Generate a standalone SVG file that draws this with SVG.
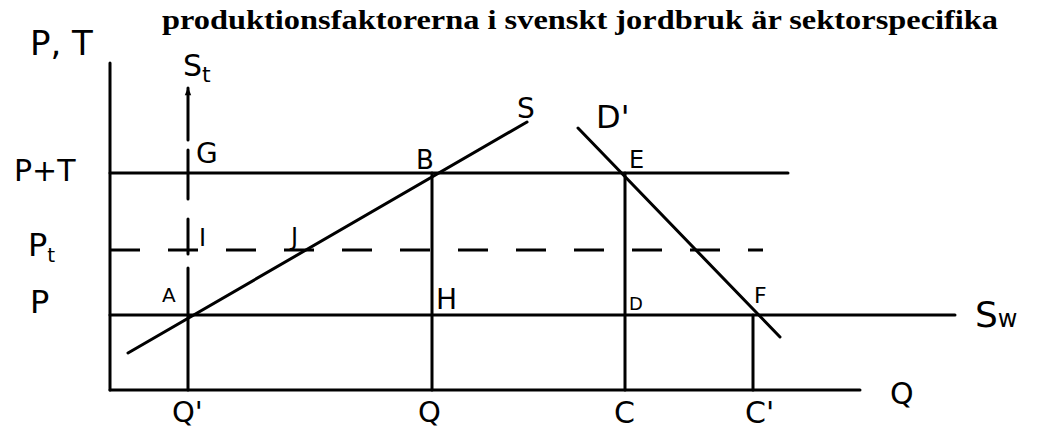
<svg xmlns="http://www.w3.org/2000/svg" width="1041" height="430" viewBox="0 0 1041 430">
<style>
.ln{stroke:#000;stroke-width:3;fill:none;stroke-linecap:round}
.dsh{stroke:#000;stroke-width:3;fill:none;stroke-dasharray:30 28}
.lb{font-family:"DejaVu Sans","Liberation Sans",sans-serif;fill:#000}
.title{font-family:"Liberation Serif","Times New Roman",serif;font-weight:bold;font-size:28px;fill:#000}
</style>
<defs>
<marker id="ah" viewBox="0 0 10 10" refX="9" refY="5" markerWidth="10" markerHeight="8" orient="auto" markerUnits="userSpaceOnUse">
<path d="M0,1 L10,5 L0,9 Z" fill="#000"/>
</marker>
</defs>
<rect width="1041" height="430" fill="#fff"/>
<text class="title" x="162" y="29" textLength="836" lengthAdjust="spacingAndGlyphs">produktionsfaktorerna i svenskt jordbruk är sektorspecifika</text>
<g id="connectors">
<line class="ln" x1="110" y1="63" x2="110" y2="390"/>
<line class="ln" x1="110" y1="390" x2="860" y2="390"/>
<line class="ln" x1="110" y1="173" x2="788" y2="173"/>
<line class="dsh" x1="110" y1="250" x2="763" y2="250"/>
<line class="ln" x1="110" y1="315" x2="955" y2="315"/>
<line class="ln" x1="188" y1="140" x2="188" y2="88" marker-end="url(#ah)"/>
<line class="ln" x1="188" y1="150" x2="188" y2="199"/>
<line class="ln" x1="188" y1="219" x2="188" y2="254"/>
<line class="ln" x1="188" y1="268" x2="188" y2="390"/>
<line class="ln" x1="128" y1="353" x2="527" y2="122"/>
<line class="ln" x1="578" y1="128" x2="780" y2="337"/>
<line class="ln" x1="432" y1="173" x2="432" y2="390"/>
<line class="ln" x1="625" y1="173" x2="625" y2="390"/>
<line class="ln" x1="753" y1="315" x2="753" y2="390"/>
</g>
<g id="axis-y"><text class="lb" x="30" y="55" font-size="34">P, T</text></g>
<g id="St"><text class="lb" x="183" y="76" font-size="30">S<tspan font-size="22" dy="6">t</tspan></text></g>
<g id="PT"><text class="lb" x="14" y="181" font-size="30">P+T</text></g>
<g id="G"><text class="lb" x="196" y="163" font-size="28">G</text></g>
<g id="B"><text class="lb" x="416" y="169" font-size="26">B</text></g>
<g id="E"><text class="lb" x="629" y="168" font-size="24">E</text></g>
<g id="S"><text class="lb" x="517" y="118" font-size="28">S</text></g>
<g id="Dp"><text class="lb" x="596" y="128" font-size="32">D'</text></g>
<g id="Pt"><text class="lb" x="28" y="256" font-size="32">P<tspan font-size="20" dy="6">t</tspan></text></g>
<g id="I"><text class="lb" x="199" y="246" font-size="24">I</text></g>
<g id="J"><text class="lb" x="291" y="245" font-size="24">J</text></g>
<g id="P"><text class="lb" x="30" y="313" font-size="32">P</text></g>
<g id="A"><text class="lb" x="162" y="302" font-size="20">A</text></g>
<g id="H"><text class="lb" x="436" y="309" font-size="28">H</text></g>
<g id="D"><text class="lb" x="629" y="310" font-size="18">D</text></g>
<g id="F"><text class="lb" x="754" y="303" font-size="22">F</text></g>
<g id="Sw"><text class="lb" x="975" y="327" font-size="36">S<tspan font-size="24">w</tspan></text></g>
<g id="Qp"><text class="lb" x="172" y="422" font-size="29">Q'</text></g>
<g id="Q"><text class="lb" x="418" y="422" font-size="29">Q</text></g>
<g id="C"><text class="lb" x="614" y="423" font-size="30">C</text></g>
<g id="Cp"><text class="lb" x="745" y="423" font-size="30">C'</text></g>
<g id="Qaxis"><text class="lb" x="890" y="404" font-size="30">Q</text></g>
</svg>
